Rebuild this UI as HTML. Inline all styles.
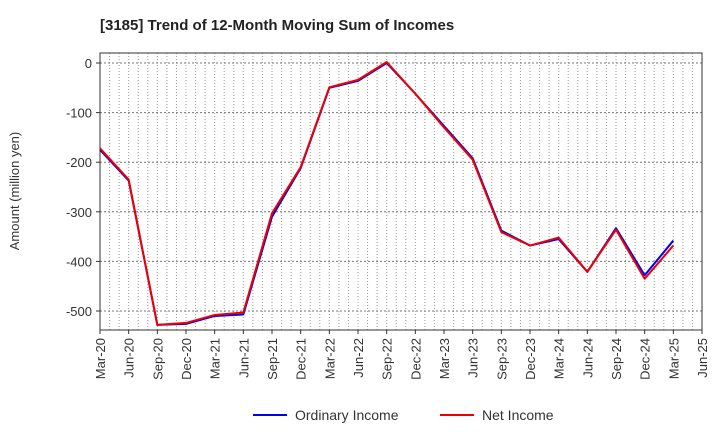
<!DOCTYPE html>
<html><head><meta charset="utf-8"><style>
body{margin:0;background:#fff;font-family:"Liberation Sans",Arial,sans-serif}
</style></head><body>
<svg id="c" width="720" height="440" xmlns="http://www.w3.org/2000/svg">
<text x="100" y="30" font-size="15" font-weight="bold" fill="#222">[3185]  Trend of 12-Month Moving Sum of Incomes</text>
<g id="grid"></g>
<g id="axes"></g>
<g id="series"></g>
<text transform="translate(19,191) rotate(-90)" text-anchor="middle" font-size="13" fill="#333">Amount (million yen)</text>
<g>
<line x1="253" y1="415" x2="287" y2="415" stroke="#0000ee" stroke-width="2"/>
<text x="295" y="420" font-size="14" fill="#333">Ordinary Income</text>
<line x1="440" y1="415" x2="474" y2="415" stroke="#ee0000" stroke-width="2"/>
<text x="482" y="420" font-size="14" fill="#333">Net Income</text>
</g>
</svg>
<script>
const categories=["Mar-20","Jun-20","Sep-20","Dec-20","Mar-21","Jun-21","Sep-21","Dec-21","Mar-22","Jun-22","Sep-22","Dec-22","Mar-23","Jun-23","Sep-23","Dec-23","Mar-24","Jun-24","Sep-24","Dec-24","Mar-25","Jun-25"];
const ordinaryIncome=[-175,-237,-528,-526,-510,-507,-310,-212,-50,-36,0,-62,-127,-192,-338,-368,-355,-421,-333,-428,-358];
const netIncome=[-172,-235,-528,-524,-508,-503,-303,-210,-49,-34,2,-62,-130,-195,-341,-368,-352,-421,-336,-435,-368];
const yTicks=[0,-100,-200,-300,-400,-500];
const NS="http://www.w3.org/2000/svg";
const L=100,R=702,T=53,B=330;
const x=i=>L+i*(R-L)/(categories.length-1);
const y=v=>63+(-v)*(311-63)/500;
function mk(tag,attrs,parent){const e=document.createElementNS(NS,tag);for(const k in attrs)e.setAttribute(k,attrs[k]);parent.appendChild(e);return e;}
const grid=document.getElementById('grid'),axes=document.getElementById('axes'),ser=document.getElementById('series');
for(let m=0;m<=(categories.length-1)*3;m++){const xx=L+m*(R-L)/((categories.length-1)*3);
const g=mk('line',{x1:xx,x2:xx,y1:T,y2:B,stroke:'#999','stroke-width':1,'stroke-dasharray':'1,2'},grid);

}
yTicks.forEach(v=>{const g=mk('line',{x1:L,x2:R,y1:y(v),y2:y(v),stroke:'#777','stroke-width':1,'stroke-dasharray':'2,2'},grid);


const t=mk('text',{x:L-8,y:y(v)+5,'text-anchor':'end','font-size':13,fill:'#333'},axes);t.textContent=v;


mk('line',{x1:L-4,x2:L,y1:y(v),y2:y(v),stroke:'#333'},axes);});
const fr=mk('rect',{x:L,y:T,width:R-L,height:B-T,fill:'none',stroke:'#333','stroke-width':1},axes);


categories.forEach((c,i)=>{mk('line',{x1:x(i),x2:x(i),y1:B,y2:B+4,stroke:'#333'},axes);
const t=mk('text',{transform:`translate(${x(i)+5},${B+8}) rotate(-90)`,'text-anchor':'end','font-size':13,fill:'#333'},axes);t.textContent=c;

});
function line(data,color,name){const p=mk('polyline',{points:data.map((v,i)=>x(i)+','+y(v)).join(' '),fill:'none',stroke:color,'stroke-width':2,'stroke-linejoin':'round'},ser);

}
line(ordinaryIncome,'#0000ee','ordinary-income-line');
line(netIncome,'#ee0000','net-income-line');
</script>
</body></html>
